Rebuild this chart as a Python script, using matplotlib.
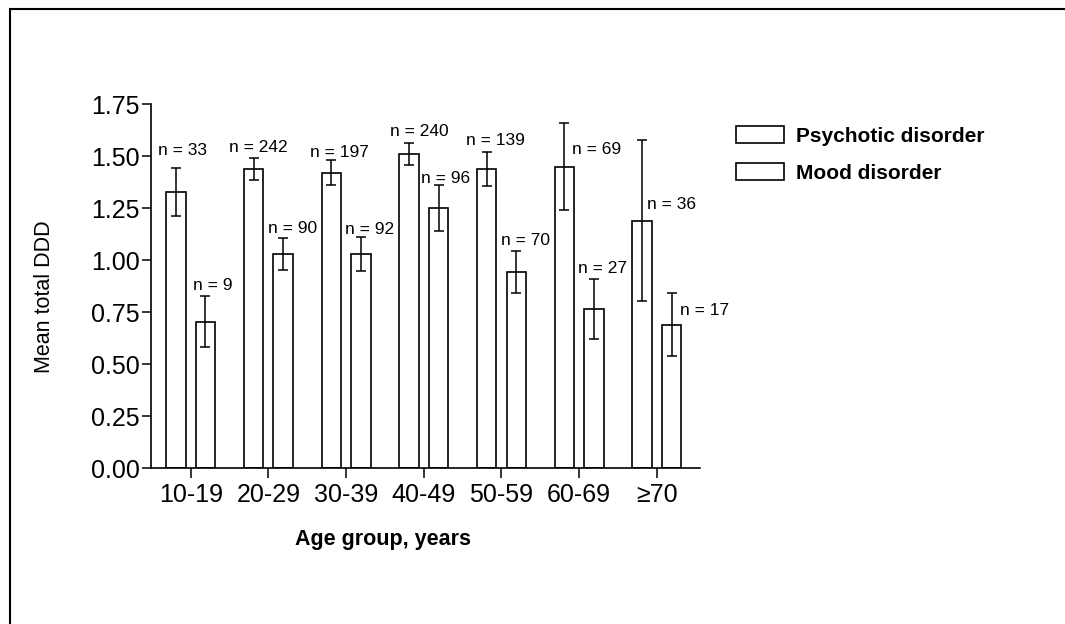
import matplotlib
matplotlib.use("Agg")
import matplotlib.pyplot as plt
from matplotlib.lines import Line2D
import numpy as np

plt.rcParams["font.family"] = ["Liberation Sans", "DejaVu Sans"]

age_groups = ["10-19", "20-29", "30-39", "40-49", "50-59", "60-69", "\u226570"]
psych_mean = [1.33, 1.44, 1.42, 1.51, 1.44, 1.45, 1.19]
psych_err = [0.115, 0.054, 0.06, 0.054, 0.081, 0.208, 0.388]
psych_n = [33, 242, 197, 240, 139, 69, 36]
mood_mean = [0.705, 1.03, 1.03, 1.25, 0.945, 0.765, 0.69]
mood_err = [0.123, 0.076, 0.082, 0.11, 0.10, 0.145, 0.152]
mood_n = [9, 90, 92, 96, 70, 27, 17]

# label offsets in pixels from the top of each error bar (layout only)
psych_offsets = [(7, 17), (5, 10), (8, 8), (10, 11), (9, 11), (32, -26), (29, -64)]
mood_offsets = [(7, 11), (9, 10), (9, 8), (7, 7), (9, 10), (9, 11), (33, -17)]

W, H = 1065, 624
fig = plt.figure(figsize=(W / 100, H / 100), dpi=100)
ax = fig.add_axes([151 / W, 1 - 468.3 / H, (700 - 151) / W, (468.3 - 104.3) / H])

x = np.arange(len(age_groups))
width = 0.25
off = 0.19

bar_kw = dict(color="white", edgecolor="black", linewidth=1.2, zorder=2)
err_kw = dict(ecolor="black", elinewidth=1.1, capsize=3.6, capthick=1.1)
ax.bar(x - off, psych_mean, width, yerr=psych_err, error_kw=err_kw,
       label="Psychotic disorder", **bar_kw)
ax.bar(x + off, mood_mean, width, yerr=mood_err, error_kw=err_kw,
       label="Mood disorder", **bar_kw)

for i in range(len(x)):
    ax.annotate(f"n = {psych_n[i]}", xy=(x[i] - off, psych_mean[i] + psych_err[i]),
                xytext=psych_offsets[i], textcoords="offset pixels",
                ha="center", va="center", fontsize=12.5)
    ax.annotate(f"n = {mood_n[i]}", xy=(x[i] + off, mood_mean[i] + mood_err[i]),
                xytext=mood_offsets[i], textcoords="offset pixels",
                ha="center", va="center", fontsize=12.5)

ax.set_xlim(-0.511, 6.555)
ax.set_ylim(0, 1.75)
ax.set_yticks([0, 0.25, 0.5, 0.75, 1.0, 1.25, 1.5, 1.75])
ax.set_yticklabels([f"{v:.2f}" for v in ax.get_yticks()])
ax.set_xticks(x)
ax.set_xticklabels(age_groups)
ax.tick_params(axis="y", length=6.5, width=1.1, pad=1.5, labelsize=18)
ax.tick_params(axis="x", length=7, width=1.1, pad=3.6, labelsize=18)

for s in ["top", "right"]:
    ax.spines[s].set_visible(False)
for s in ["left", "bottom"]:
    ax.spines[s].set_linewidth(1.2)

ax.set_ylabel("Mean total DDD", fontsize=15.5)
ax.yaxis.set_label_coords(-0.175, 0.472)
ax.set_xlabel("Age group, years", fontsize=15.5, fontweight="bold")
ax.xaxis.set_label_coords(0.4217, -0.166)

ax.legend(loc="upper left", bbox_to_anchor=(736 / W, 1 - 126 / H),
          bbox_transform=fig.transFigure, frameon=False,
          prop={"weight": "bold", "size": 15}, handlelength=2.3,
          handleheight=0.87, handletextpad=0.6, labelspacing=0.85,
          borderpad=0, borderaxespad=0)

# page border from the scanned figure
fig.add_artist(Line2D([10 / W, 1], [1 - 9 / H, 1 - 9 / H], color="black", lw=1.5))
fig.add_artist(Line2D([10 / W, 10 / W], [0, 1 - 9 / H], color="black", lw=1.5))

fig.savefig("out.png", dpi=100)
